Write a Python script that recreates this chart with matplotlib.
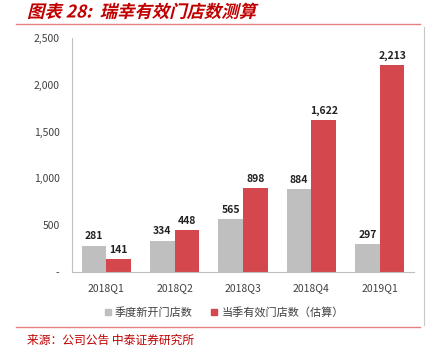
import numpy as np
import matplotlib
matplotlib.use("Agg")
import matplotlib.pyplot as plt
from matplotlib.lines import Line2D
from matplotlib.textpath import TextPath
from matplotlib.patches import PathPatch
from matplotlib.font_manager import FontProperties
from matplotlib.transforms import Affine2D

plt.rcParams['font.family'] = ['Noto Sans CJK SC', 'DejaVu Sans']

# ==========================
# 数据
# ==========================

quarters = ["2018Q1", "2018Q2", "2018Q3", "2018Q4", "2019Q1"]
new_stores = [281, 334, 565, 884, 297]
active_stores = [141, 448, 898, 1622, 2213]
series_names = ["季度新开门店数", "当季有效门店数（估算）"]
yticks = [0, 500, 1000, 1500, 2000, 2500]
ytick_labels = ["-", "500", "1,000", "1,500", "2,000", "2,500"]

grey = "#BFBFBF"
red = "#D4474C"
title_red = "#C00000"

# ==========================
# 画图
# ==========================

fig = plt.figure(figsize=(4.34, 3.55), dpi=100)
ax = fig.add_axes([0.166, 0.234, 0.788, 0.659])

x = np.arange(len(quarters))
w = 0.36

b1 = ax.bar(x - w / 2, new_stores, width=w, color=grey)
b2 = ax.bar(x + w / 2, active_stores, width=w, color=red)

for bars in (b1, b2):
    for rect in bars:
        h = rect.get_height()
        ax.text(rect.get_x() + rect.get_width() / 2, h + 45, f"{h:,.0f}",
                ha="center", va="bottom", fontsize=7.5, fontweight="bold",
                color="#222222")

ax.set_xlim(-0.5, len(quarters) - 0.5)
ax.set_ylim(0, 2500)
ax.set_yticks(yticks)
ax.set_yticklabels(ytick_labels)
ax.set_xticks(x)
ax.set_xticklabels(quarters)
ax.tick_params(axis="both", length=0, labelsize=7.5, colors="#404040", pad=8)
ax.tick_params(axis="y", pad=9)

for s in ["top", "right"]:
    ax.spines[s].set_visible(False)
for s in ["left", "bottom"]:
    ax.spines[s].set_color("#BFBFBF")
    ax.spines[s].set_linewidth(0.8)

handles = [Line2D([], [], marker="s", linestyle="", color=grey, markersize=5),
           Line2D([], [], marker="s", linestyle="", color=red, markersize=5)]
fig.legend(handles, series_names, loc="center", bbox_to_anchor=(0.516, 0.121),
           ncol=2, frameon=False, fontsize=8, handlelength=0.7,
           handletextpad=0.3, columnspacing=1.6, labelcolor="#404040")

# 标题（斜体效果）
fp = FontProperties(family="Noto Sans CJK SC", weight="bold")
tp = TextPath((0, 0), "图表 28:  瑞幸有效门店数测算", size=12.5, prop=fp)
tr = (Affine2D().skew_deg(14, 0).scale(1 / 72.0).translate(0.27, 3.55 - 0.175)
      + fig.dpi_scale_trans)
fig.add_artist(PathPatch(tp, transform=tr, color=title_red, lw=0))

fig.add_artist(Line2D([0.037, 0.968], [0.932, 0.932], color="#E88080", lw=1))
fig.add_artist(Line2D([0.037, 0.968], [0.079, 0.079], color="#E88080", lw=1))
fig.add_artist(Line2D([0.977, 0.977], [0.085, 0.925], color="#C8C8C8", lw=0.8))
fig.text(0.062, 0.042, "来源：公司公告 中泰证券研究所", color=title_red,
         fontsize=8.5, va="center")

fig.savefig("out.png", dpi=100)
plt.close(fig)
